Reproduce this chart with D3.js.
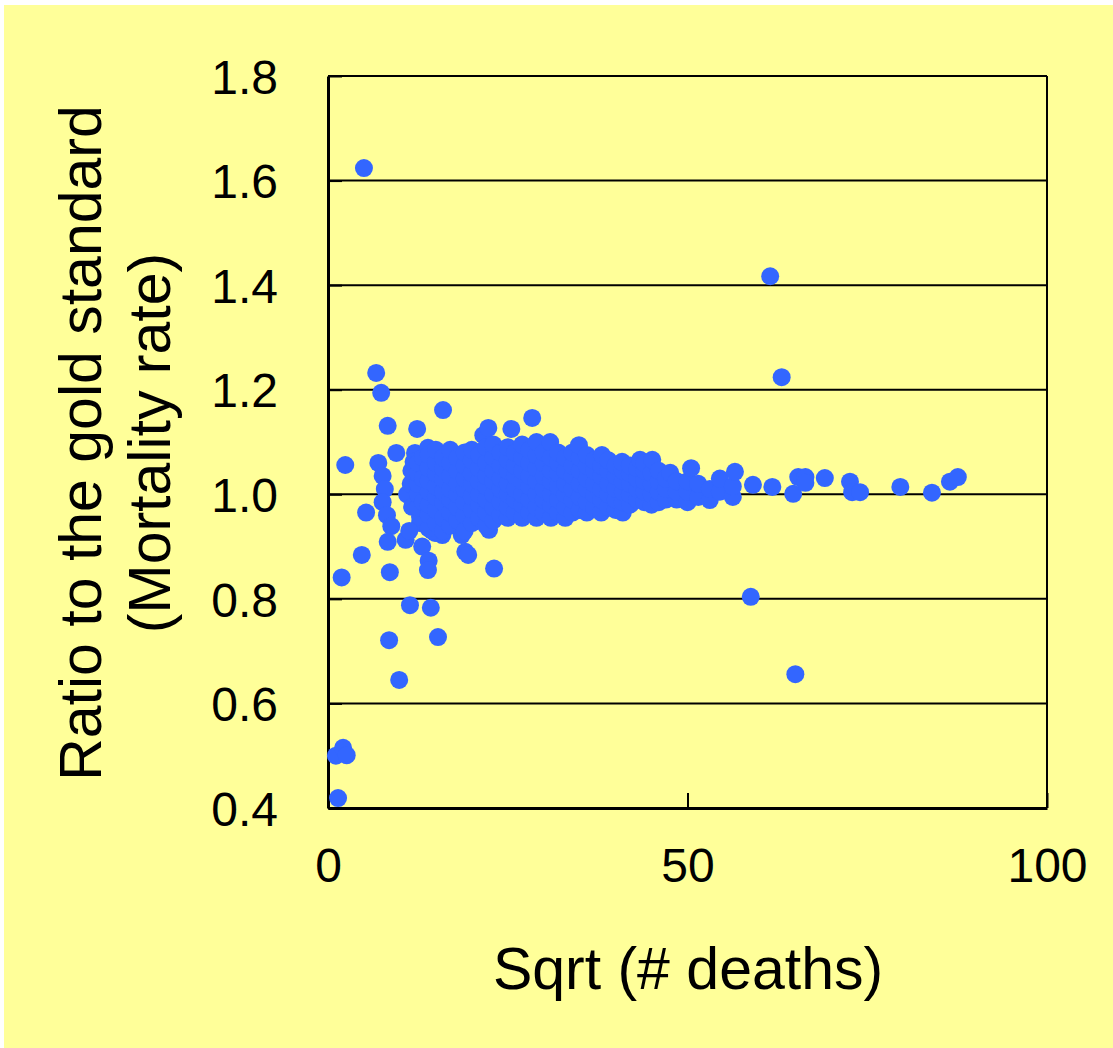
<!DOCTYPE html>
<html lang="en">
<head>
<meta charset="UTF-8">
<title>Ratio to the gold standard</title>
<style>
body { margin: 0; background: #fff; }
text { font-family: "Liberation Sans", Arial, sans-serif; fill: #000; }
.grid line { stroke: #000; stroke-width: 2px; }
.dot { fill: #3366ff; }
</style>
</head>
<body>
<div id="chart"></div>
<script src="https://cdnjs.cloudflare.com/ajax/libs/d3/7.8.5/d3.min.js"></script>
<script>

// tick values
let xTicks = [0, 50, 100];
let yTicks = [0.4, 0.6, 0.8, 1.0, 1.2, 1.4, 1.6, 1.8];

// scattered points away from the cluster [sqrt(deaths), ratio]
let outliers = [
  [5.0, 1.624], [61.5, 1.417], [63.1, 1.224], [6.7, 1.232], [7.4, 1.194],
  [16.0, 1.161], [28.4, 1.146], [2.4, 1.056], [58.8, 0.804], [65.0, 0.656],
  [1.1, 0.500], [2.1, 0.515], [2.6, 0.501], [1.4, 0.419], [1.9, 0.841],
  [4.7, 0.884], [5.3, 0.965], [9.9, 0.645], [8.5, 0.721], [8.6, 0.851],
  [11.4, 0.788], [14.3, 0.783], [15.3, 0.727], [23.1, 0.858], [8.3, 1.131],
  [12.4, 1.125]
];

// small counts, left edge of the funnel
let leftEdge = [
  [7.0, 1.060], [9.5, 1.079], [12.1, 1.079], [13.9, 1.089], [7.6, 1.035],
  [7.9, 1.010], [7.6, 0.985], [8.2, 0.960], [8.8, 0.939], [8.3, 0.909],
  [10.8, 0.913], [13.1, 0.900], [14.0, 0.873], [13.9, 0.855], [11.7, 1.000],
  [11.0, 1.000], [11.7, 0.976], [12.8, 0.945], [14.9, 0.926], [15.9, 0.922],
  [18.6, 0.922], [19.1, 0.890], [19.5, 0.884], [22.4, 0.932], [14.5, 0.930],
  [11.3, 0.930]
];

// dense middle of the funnel
let cluster = [
  [11.5, 1.020], [11.6, 1.045], [11.9, 1.062],
  [12.8, 0.957], [12.5, 0.975], [12.5, 1.000], [12.5, 1.020], [12.5, 1.040], [12.5, 1.060],
  [13.2, 0.985], [13.2, 1.030], [13.2, 1.070],
  [14.0, 0.935], [14.0, 0.960], [14.0, 0.980], [14.0, 1.005], [14.0, 1.025], [14.0, 1.050], [14.0, 1.075],
  [15.0, 0.945], [15.0, 0.970], [15.0, 0.995], [15.0, 1.015], [15.0, 1.040], [15.0, 1.060], [15.0, 1.085],
  [16.0, 0.930], [16.0, 0.955], [16.0, 0.985], [16.0, 1.005], [16.0, 1.030], [16.0, 1.050], [16.0, 1.070],
  [17.0, 0.940], [17.0, 0.965], [17.0, 0.990], [17.0, 1.010], [17.0, 1.035], [17.0, 1.060], [17.0, 1.085],
  [18.0, 0.950], [18.0, 0.975], [18.0, 1.000], [18.0, 1.020], [18.0, 1.045], [18.0, 1.070],
  [19.0, 0.930], [19.0, 0.960], [19.0, 0.985], [19.0, 1.010], [19.0, 1.030], [19.0, 1.055], [19.0, 1.080],
  [20.0, 0.945], [20.0, 0.970], [20.0, 0.995], [20.0, 1.020], [20.0, 1.040], [20.0, 1.065], [20.0, 1.085],
  [21.0, 0.955], [21.0, 0.980], [21.0, 1.000], [21.0, 1.025], [21.0, 1.050], [21.0, 1.075], [21.6, 1.113],
  [22.0, 0.940], [22.0, 0.965], [22.0, 0.990], [22.0, 1.015], [22.0, 1.035], [22.0, 1.060], [22.0, 1.090], [22.3, 1.127],
  [23.0, 0.950], [23.0, 0.975], [23.0, 1.000], [23.0, 1.025], [23.0, 1.045], [23.0, 1.070], [23.0, 1.095],
  [24.0, 0.960], [24.0, 0.985], [24.0, 1.010], [24.0, 1.030], [24.0, 1.055], [24.0, 1.080],
  [25.0, 0.955], [25.0, 0.975], [25.0, 1.000], [25.0, 1.020], [25.0, 1.045], [25.0, 1.065], [25.0, 1.090], [25.5, 1.125],
  [26.0, 0.965], [26.0, 0.990], [26.0, 1.010], [26.0, 1.035], [26.0, 1.055], [26.0, 1.080],
  [27.0, 0.955], [27.0, 0.980], [27.0, 1.000], [27.0, 1.025], [27.0, 1.045], [27.0, 1.070], [27.0, 1.095],
  [28.0, 0.965], [28.0, 0.990], [28.0, 1.015], [28.0, 1.035], [28.0, 1.060], [28.0, 1.085],
  [29.0, 0.955], [29.0, 0.975], [29.0, 1.000], [29.0, 1.025], [29.0, 1.050], [29.0, 1.075], [29.0, 1.100],
  [30.0, 0.965], [30.0, 0.990], [30.0, 1.010], [30.0, 1.035], [30.0, 1.060], [30.0, 1.080],
  [31.0, 0.955], [31.0, 0.980], [31.0, 1.000], [31.0, 1.025], [31.0, 1.045], [31.0, 1.070], [30.9, 1.100],
  [32.0, 0.965], [32.0, 0.990], [32.0, 1.015], [32.0, 1.040], [32.0, 1.060], [32.0, 1.080],
  [33.0, 0.955], [33.0, 0.975], [33.0, 1.000], [33.0, 1.020], [33.0, 1.045], [33.0, 1.070],
  [34.0, 0.965], [34.0, 0.990], [34.0, 1.010], [34.0, 1.035], [34.0, 1.055], [34.0, 1.080],
  [35.0, 0.970], [35.0, 0.995], [35.0, 1.020], [35.0, 1.045], [35.0, 1.070], [34.9, 1.094],
  [36.0, 0.965], [36.0, 0.985], [36.0, 1.010], [36.0, 1.030], [36.0, 1.055], [36.0, 1.075],
  [37.0, 0.975], [37.0, 1.000], [37.0, 1.020], [37.0, 1.045], [37.0, 1.065],
  [38.0, 0.965], [38.0, 0.990], [38.0, 1.010], [38.0, 1.035], [38.0, 1.055], [38.1, 1.075],
  [39.0, 0.975], [39.0, 1.000], [39.0, 1.020], [39.0, 1.045], [39.0, 1.065],
  [40.0, 0.970], [40.0, 0.990], [40.0, 1.010], [40.0, 1.035], [40.0, 1.055],
  [41.0, 0.965], [41.0, 0.985], [41.0, 1.005], [41.0, 1.025], [41.0, 1.045], [40.9, 1.062],
  [42.0, 0.980], [42.0, 1.000], [42.0, 1.020], [42.0, 1.040], [42.0, 1.055],
  [43.0, 0.990], [43.0, 1.010], [43.0, 1.030], [43.0, 1.050], [43.4, 1.066],
  [44.0, 0.985], [44.0, 1.005], [44.0, 1.025], [44.0, 1.045], [44.0, 1.060],
  [45.0, 0.980], [45.0, 1.000], [45.0, 1.020], [45.0, 1.040], [45.1, 1.066],
  [46.0, 0.985], [46.0, 1.005], [46.0, 1.025], [46.0, 1.045]
];

// larger counts, right tail
let tail = [
  [47.0, 0.990], [47.0, 1.010], [47.0, 1.030], [47.6, 1.041],
  [48.5, 0.990], [48.5, 1.005], [48.5, 1.025],
  [50.0, 0.985], [50.0, 1.005], [50.0, 1.025], [50.5, 1.050],
  [51.5, 0.995], [51.5, 1.020], [53.1, 0.989], [53.1, 1.010],
  [54.5, 1.005], [54.5, 1.030], [56.3, 0.995], [56.3, 1.015], [56.6, 1.043],
  [59.1, 1.018], [61.8, 1.014], [64.7, 1.001], [65.4, 1.033], [66.4, 1.033],
  [66.4, 1.022], [69.1, 1.031], [72.6, 1.024], [72.9, 1.004], [74.0, 1.004],
  [79.6, 1.014], [84.0, 1.003], [86.5, 1.024], [87.6, 1.033]
];

let points = outliers.concat(leftEdge, cluster, tail);

let width = 1113, height = 1048;
let plot = { left: 328, right: 1047, top: 76, bottom: 808 };

let x = d3.scaleLinear().domain([0, 100]).range([plot.left, plot.right]);
let y = d3.scaleLinear().domain([0.4, 1.8]).range([plot.bottom, plot.top]);

let svg = d3.select('#chart').append('svg')
    .attr('width', width)
    .attr('height', height);

svg.append('rect')
    .attr('x', 4).attr('y', 5)
    .attr('width', width - 4).attr('height', height - 5)
    .attr('fill', '#ffff99');

// horizontal grid lines
svg.append('g')
    .attr('class', 'grid')
    .selectAll('line')
    .data(yTicks)
    .join('line')
    .attr('x1', plot.left).attr('x2', plot.right)
    .attr('y1', d => y(d)).attr('y2', d => y(d));

// right border
svg.append('line')
    .attr('x1', plot.right).attr('x2', plot.right)
    .attr('y1', plot.top).attr('y2', plot.bottom)
    .attr('stroke', '#000').attr('stroke-width', 2);

// axes with inside ticks
let yAxis = svg.append('g')
    .attr('transform', 'translate(' + plot.left + ',0)')
    .call(d3.axisLeft(y).tickValues(yTicks).tickSizeInner(-14).tickSizeOuter(0)
        .tickFormat(d3.format('.1f')).tickPadding(50));
yAxis.select('.domain').attr('stroke-width', 3);
yAxis.selectAll('.tick line').attr('stroke-width', 2);
yAxis.selectAll('text').style('font-size', '48px').attr('dy', '0.36em');

let xAxis = svg.append('g')
    .attr('transform', 'translate(0,' + plot.bottom + ')')
    .call(d3.axisBottom(x).tickValues(xTicks).tickSizeInner(-15).tickSizeOuter(0)
        .tickPadding(74));
xAxis.select('.domain').attr('stroke-width', 3);
xAxis.selectAll('.tick line').attr('stroke-width', 2);
xAxis.selectAll('text').style('font-size', '48px').attr('dy', '0');

// points
svg.append('g')
    .selectAll('circle')
    .data(points)
    .join('circle')
    .attr('class', 'dot')
    .attr('cx', d => x(d[0]))
    .attr('cy', d => y(d[1]))
    .attr('r', 9);

// titles
svg.append('text')
    .attr('x', 688).attr('y', 989)
    .attr('text-anchor', 'middle')
    .style('font-size', '59px')
    .text('Sqrt (# deaths)');

let yTitle = svg.append('text')
    .attr('transform', 'translate(101,443) rotate(-90)')
    .attr('text-anchor', 'middle')
    .style('font-size', '59px');
yTitle.append('tspan').attr('x', 0).attr('y', 0).text('Ratio to the gold standard');
yTitle.append('tspan').attr('x', 0).attr('y', 69).text('(Mortality rate)');

</script>
</body>
</html>
